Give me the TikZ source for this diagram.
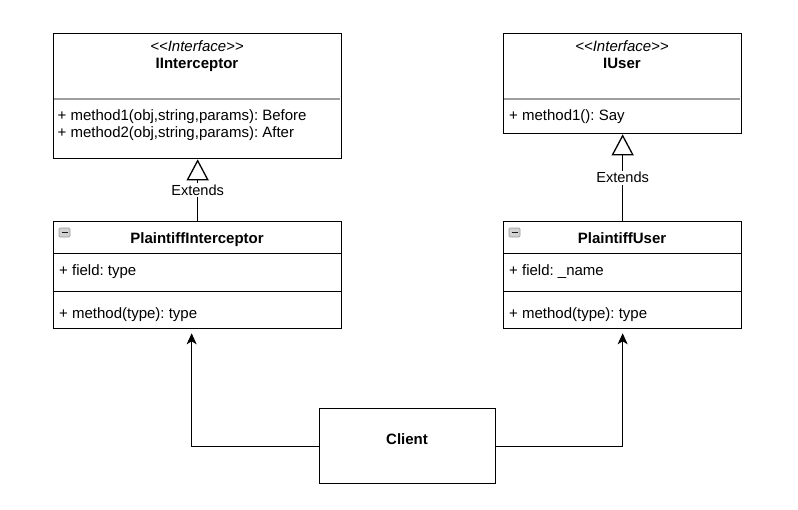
\documentclass[tikz,border=0pt]{standalone}
\usepackage{fontspec}
\setmainfont{Liberation Sans}[Ligatures=NoCommon]
\usetikzlibrary{arrows.meta}
\frenchspacing
\begin{document}
\frenchspacing
\begin{tikzpicture}[x=1pt,y=-1pt,
  box/.style={draw=black, line width=1.3pt, fill=white, inner sep=0pt, anchor=north west},
  divider/.style={draw=gray!75, line width=1.3pt},
  txt/.style={anchor=base west, inner sep=0pt, font=\fontsize{15}{18}\selectfont},
  ctxt/.style={anchor=base, inner sep=0pt, font=\fontsize{15}{18}\selectfont},
  btxt/.style={anchor=base, inner sep=0pt, font=\fontsize{15}{18}\selectfont\bfseries},
  stereo/.style={anchor=base, inner sep=0pt, font=\fontsize{15}{18}\selectfont\itshape},
  gen/.style={draw=black, line width=1.3pt, -{Triangle[open, length=21pt, width=22pt, fill=white]}},
  assoc/.style={draw=black, line width=1.3pt, -{Stealth[length=11pt, width=10pt, inset=3pt]}, shorten >=4pt},
  extlbl/.style={fill=white, inner sep=1.5pt, font=\fontsize{14.6}{17}\selectfont},
  mini/.style={draw=gray!80, fill=gray!35, rounded corners=1pt, line width=0.6pt}
]
\useasboundingbox (0,0) rectangle (798,509);

% IInterceptor
\node[box, minimum width=288pt, minimum height=125pt] (ii) at (53,33) {};
\draw[divider] (54,99) -- (340,99);
\node[stereo] (iist) at (197,51.5) {{<}{<}Interface{>}{>}};
\node[btxt] (iiname) at (197,68) {IInterceptor};
\node[txt] (iim1) at (57.5,120) {+ method1(obj,string,params): Before};
\node[txt] (iim2) at (57.5,137) {+ method2(obj,string,params): After};

% IUser
\node[box, minimum width=238pt, minimum height=100pt] (iu) at (503,33) {};
\draw[divider] (504,99) -- (740,99);
\node[stereo] (iust) at (622,51.5) {{<}{<}Interface{>}{>}};
\node[btxt] (iuname) at (622,68) {IUser};
\node[txt] (ium1) at (509,120.5) {+ method1(): Say};

% PlaintiffInterceptor
\node[box, minimum width=288pt, minimum height=32pt] (pih) at (53,221) {};
\node[box, minimum width=288pt, minimum height=38pt] (pif) at (53,253) {};
\node[box, minimum width=288pt, minimum height=37pt] (pim) at (53,291) {};
\draw[mini] (59,228) rectangle (70,237);
\draw[gray!20!black, line width=1pt] (61.5,232.5) -- (67.5,232.5);
\node[btxt] (piname) at (197,243) {PlaintiffInterceptor};
\node[txt] (pifield) at (59,275) {+ field: type};
\node[txt] (pimeth) at (59,318) {+ method(type): type};

% PlaintiffUser
\node[box, minimum width=238pt, minimum height=32pt] (puh) at (503,221) {};
\node[box, minimum width=238pt, minimum height=38pt] (puf) at (503,253) {};
\node[box, minimum width=238pt, minimum height=37pt] (pum) at (503,291) {};
\draw[mini] (509,228) rectangle (520,237);
\draw[gray!20!black, line width=1pt] (511.5,232.5) -- (517.5,232.5);
\node[btxt] (puname) at (622,243) {PlaintiffUser};
\node[txt] (pufield) at (509,275) {+ field: \_name};
\node[txt] (pumeth) at (509,318) {+ method(type): type};

% Client
\node[box, minimum width=176pt, minimum height=75pt] (client) at (319,408) {};
\node[btxt] (clname) at (407,444) {Client};

% generalizations
\draw[gen] (pih.north) -- (ii.south) node[extlbl, midway] (ext1) {Extends};
\draw[gen] (puh.north) -- (iu.south) node[extlbl, midway] (ext2) {Extends};

% associations
\draw[assoc] (client.west) -| ([xshift=-6pt]pim.south);
\draw[assoc] (client.east) -| (pum.south);
\end{tikzpicture}
\end{document}
